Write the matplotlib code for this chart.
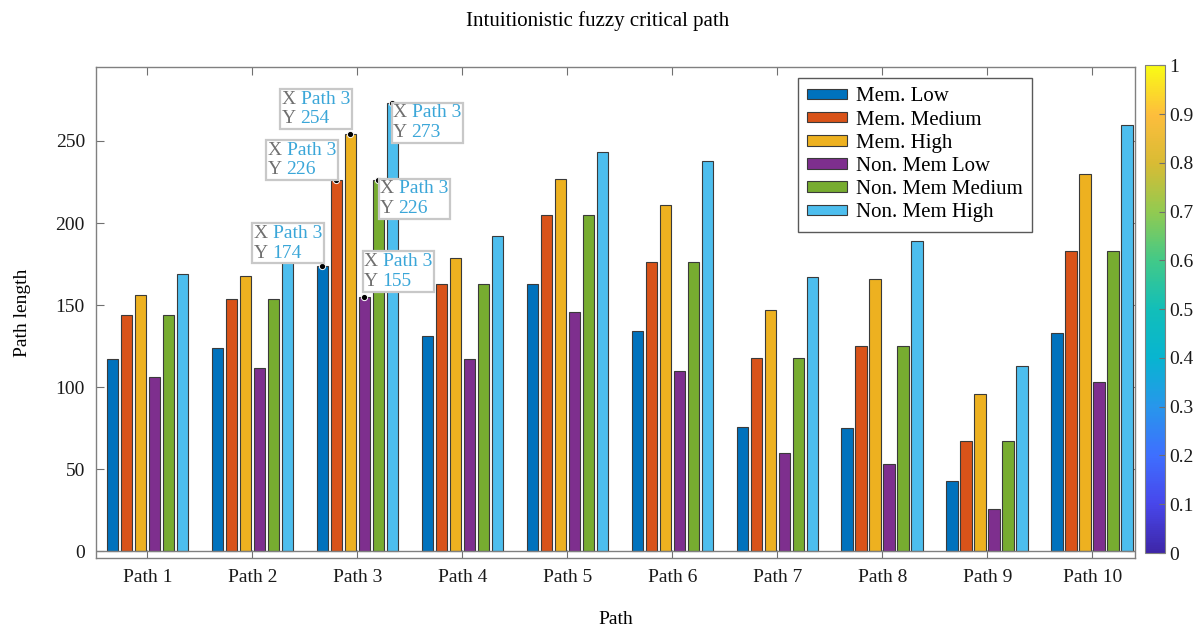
import numpy as np
import matplotlib
matplotlib.use("Agg")
import matplotlib.pyplot as plt
from matplotlib.colors import LinearSegmentedColormap, Normalize
from matplotlib.colorbar import ColorbarBase
from matplotlib.offsetbox import TextArea, VPacker, HPacker, AnnotationBbox

plt.rcParams['font.family'] = ['Liberation Serif', 'DejaVu Serif']

categories = ["Path 1", "Path 2", "Path 3", "Path 4", "Path 5",
              "Path 6", "Path 7", "Path 8", "Path 9", "Path 10"]
series_names = ["Mem. Low", "Mem. Medium", "Mem. High",
                "Non. Mem Low", "Non. Mem Medium", "Non. Mem High"]
mem_low = [117, 124, 174, 131, 163, 134, 76, 75, 43, 133]
mem_medium = [144, 154, 226, 163, 205, 176, 118, 125, 67, 183]
mem_high = [156, 168, 254, 179, 227, 211, 147, 166, 96, 230]
non_mem_low = [106, 112, 155, 117, 146, 110, 60, 53, 26, 103]
non_mem_medium = [144, 154, 226, 163, 205, 176, 118, 125, 67, 183]
non_mem_high = [169, 180, 273, 192, 243, 238, 167, 189, 113, 260]
series = [mem_low, mem_medium, mem_high, non_mem_low, non_mem_medium, non_mem_high]
colors = ["#0072BD", "#D95319", "#EDB120", "#7E2F8E", "#77AC30", "#4DBEEE"]
yticks = [0, 50, 100, 150, 200, 250]
cbar_ticks = [0, 0.1, 0.2, 0.3, 0.4, 0.5, 0.6, 0.7, 0.8, 0.9, 1]

# datatips: (series index, category index, offset in px (dx, dy), box alignment)
tips = [(0, 2, (0, 4), (1.0, 0.0)),
        (1, 2, (0, 2), (1.0, 0.0)),
        (2, 2, (0, 7), (1.0, 0.0)),
        (3, 2, (0, 7), (0.0, 0.0)),
        (4, 2, (2, 0), (0.0, 1.0)),
        (5, 2, (1, -1), (0.0, 1.0))]

fig = plt.figure(figsize=(12, 6.31), dpi=100)
ax = fig.add_axes([0.080, 0.1157, 0.866, 0.778])

x = np.arange(1, len(categories) + 1)
n = len(series)
slot = 0.8 / n
for i, (vals, c, name) in enumerate(zip(series, colors, series_names)):
    off = (i - (n - 1) / 2) * slot
    ax.bar(x + off, vals, width=slot * 0.82, color=c, edgecolor='#3a3a3a',
           linewidth=0.8, label=name, zorder=2)

ax.axhline(0, color='#808080', linewidth=1.0, zorder=3)
ax.set_xlim(0.51, 10.41)
ax.set_ylim(-4, 295)
ax.set_xticks(x)
ax.set_xticklabels(categories, fontsize=14)
ax.set_yticks(yticks)
ax.set_yticklabels([str(t) for t in yticks], fontsize=14)
ax.tick_params(direction='in', length=6, color='#707070', top=True, right=True,
               labelcolor='#1a1a1a', pad=8)
for s in ax.spines.values():
    s.set_color('#808080')
    s.set_linewidth(1.0)

ax.set_xlabel("Path", fontsize=14, labelpad=18)
ax.set_ylabel("Path length", fontsize=14, labelpad=18)
fig.text(0.498, 0.966, "Intuitionistic fuzzy critical path", ha='center', va='center',
         fontsize=15)

leg = ax.legend(loc='upper right', bbox_to_anchor=(0.901, 0.9776), fontsize=15,
                frameon=True, fancybox=False, edgecolor='#303030', handlelength=1.9,
                handleheight=0.4, labelspacing=0.2, borderpad=0.45, handletextpad=0.45,
                borderaxespad=0)
leg.get_frame().set_linewidth(1.0)

for si, ci, (dx, dy), align in tips:
    off = (si - (n - 1) / 2) * slot
    xv = x[ci] + off
    yv = series[si][ci]
    ax.plot([xv], [yv], 'o', color='black', markersize=4.5, zorder=5,
            markeredgecolor='white', markeredgewidth=0.7)
    row1 = HPacker(children=[TextArea("X ", textprops=dict(color='#707070', fontsize=14)),
                             TextArea(categories[ci], textprops=dict(color='#3aa6d8', fontsize=14))],
                   pad=0, sep=0)
    row2 = HPacker(children=[TextArea("Y ", textprops=dict(color='#707070', fontsize=14)),
                             TextArea(str(yv), textprops=dict(color='#3aa6d8', fontsize=14))],
                   pad=0, sep=0)
    box = VPacker(children=[row1, row2], pad=0, sep=2, align='left')
    ab = AnnotationBbox(box, (xv, yv), xybox=(dx, dy), xycoords='data',
                        boxcoords='offset pixels', box_alignment=align,
                        frameon=True, pad=0.12,
                        bboxprops=dict(facecolor='white', edgecolor='#c8c8c8', linewidth=1.6))
    ab.set_zorder(6)
    ax.add_artist(ab)

parula_pts = [
    (0.0, (0.2422, 0.1504, 0.6603)),
    (0.1, (0.2803, 0.2782, 0.9221)),
    (0.2, (0.2440, 0.4358, 0.9988)),
    (0.3, (0.1540, 0.5902, 0.9218)),
    (0.4, (0.0297, 0.7082, 0.8163)),
    (0.5, (0.0704, 0.7457, 0.7258)),
    (0.6, (0.2586, 0.7886, 0.5328)),
    (0.7, (0.5709, 0.7942, 0.3169)),
    (0.8, (0.8491, 0.7345, 0.2040)),
    (0.9, (0.9932, 0.7430, 0.2371)),
    (1.0, (0.9769, 0.9839, 0.0805)),
]
parula = LinearSegmentedColormap.from_list("parula", parula_pts)
cax = fig.add_axes([0.954, 0.1236, 0.0167, 0.773])
cb = ColorbarBase(cax, cmap=parula, norm=Normalize(0, 1), ticks=cbar_ticks)
cb.ax.set_yticklabels([("%g" % t) for t in cbar_ticks], fontsize=14)
cb.ax.tick_params(direction='in', length=4, color='#707070', labelcolor='#1a1a1a', pad=3)
cb.outline.set_edgecolor('#808080')

fig.savefig("out.png", dpi=100)
